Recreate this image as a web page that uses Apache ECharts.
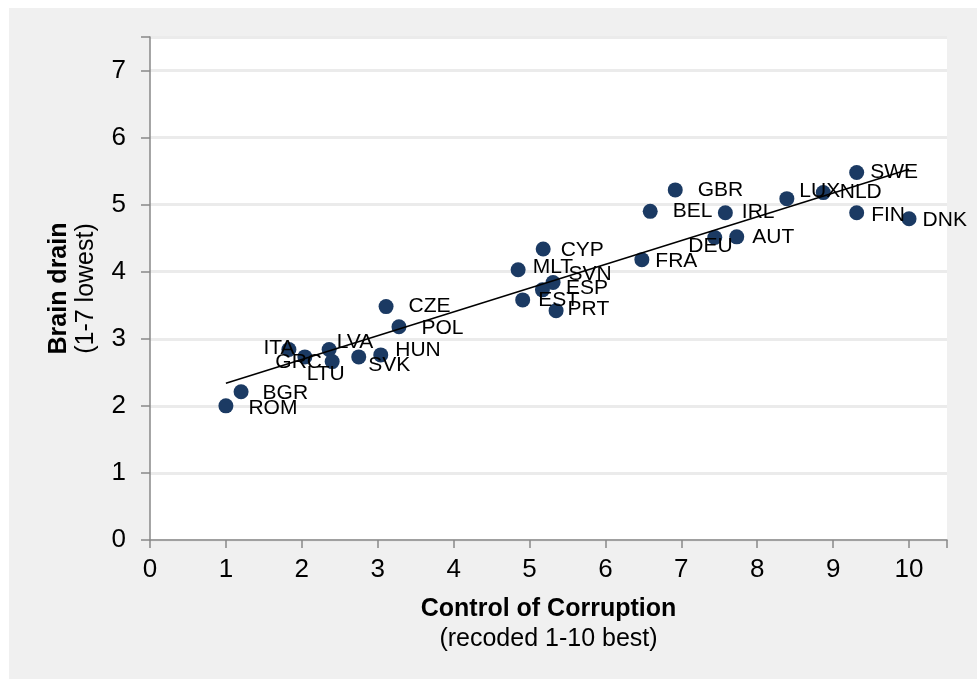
<!DOCTYPE html>
<html>
<head>
<meta charset="utf-8">
<script src="https://cdn.jsdelivr.net/npm/echarts@6/dist/echarts.min.js"></script>
<style>
  html, body { margin: 0; padding: 0; background: #fff; }
  #chart { width: 977px; height: 681px; }
</style>
</head>
<body>
<div id="chart"></div>
<script>
// countries and their values (x: control of corruption, y: brain drain)
var countries = ['ROM', 'BGR', 'ITA', 'GRC', 'LVA', 'LTU', 'SVK', 'HUN', 'CZE', 'POL',
  'MLT', 'CYP', 'SVN', 'ESP', 'EST', 'PRT', 'FRA', 'DEU', 'AUT', 'BEL',
  'IRL', 'GBR', 'LUX', 'NLD', 'SWE', 'FIN', 'DNK'];
var corruption = [1.0, 1.2, 1.83, 2.04, 2.36, 2.4, 2.75, 3.04, 3.11, 3.28,
  4.85, 5.18, 5.31, 5.17, 4.91, 5.35, 6.48, 7.44, 7.73, 6.59,
  7.58, 6.92, 8.39, 8.87, 9.31, 9.31, 10.0];
var brainDrain = [2.0, 2.21, 2.84, 2.73, 2.84, 2.66, 2.73, 2.76, 3.48, 3.18,
  4.03, 4.34, 3.84, 3.73, 3.58, 3.42, 4.18, 4.51, 4.52, 4.9,
  4.88, 5.22, 5.09, 5.18, 5.48, 4.88, 4.79];
var yTicks = [0, 1, 2, 3, 4, 5, 6, 7];
var xTicks = [0, 1, 2, 3, 4, 5, 6, 7, 8, 9, 10];

// label nudges (px), so labels sit where they do in the original
var labelNudge = {
  ROM: [15, 2], BGR: [14, 1], ITA: [-33, -1], GRC: [-37, 5], LVA: [0, -7],
  LTU: [-33, 13], SVK: [2, 8], HUN: [7, -5], CZE: [15, 0], POL: [15, 1],
  MLT: [7, -3], CYP: [10, 1], SVN: [8, -8], ESP: [16, -2], EST: [8, 0],
  PRT: [4, -1], FRA: [6, 2], DEU: [-34, 9], AUT: [8, 0], BEL: [15, 0],
  IRL: [9, -1], GBR: [15, 0], LUX: [5, -7], NLD: [9, 0], SWE: [6, 0],
  FIN: [7, 2], DNK: [6, 1]
};

var chart = echarts.init(document.getElementById('chart'));

var points = countries.map(function (c, i) {
  var n = labelNudge[c] || [6, 0];
  return {
    name: c,
    value: [corruption[i], brainDrain[i]],
    label: { offset: n }
  };
});

// linear trend line (least squares)
var n = corruption.length, sx = 0, sy = 0, sxx = 0, sxy = 0;
for (var i = 0; i < n; i++) {
  sx += corruption[i]; sy += brainDrain[i];
  sxx += corruption[i] * corruption[i]; sxy += corruption[i] * brainDrain[i];
}
var slope = (n * sxy - sx * sy) / (n * sxx - sx * sx);
var icpt = (sy - slope * sx) / n;
var xMin = Math.min.apply(null, corruption), xMax = Math.max.apply(null, corruption);
var trend = [[xMin, icpt + slope * xMin], [xMax, icpt + slope * xMax]];

var font = 'Liberation Sans, Arial, sans-serif';

var option = {
  animation: false,
  textStyle: { fontFamily: font },
  graphic: [{
    type: 'rect',
    z: -10,
    shape: { x: 9, y: 8, width: 968, height: 671 },
    style: { fill: '#f0f0f0' }
  }],
  grid: {
    left: 150, right: 30, top: 37, bottom: 141,
    show: true, backgroundColor: '#fff', borderWidth: 0
  },
  xAxis: {
    type: 'value',
    min: 0, max: 10.5, interval: 1,
    name: '{b|Control of Corruption}\n{r|(recoded 1-10 best)}',
    nameLocation: 'middle',
    nameGap: 54,
    nameTextStyle: {
      rich: {
        b: { fontSize: 25, fontWeight: 'bold', color: '#000', fontFamily: font, lineHeight: 30 },
        r: { fontSize: 25, color: '#000', fontFamily: font, lineHeight: 30 }
      }
    },
    axisLine: { show: true, onZero: false, lineStyle: { color: '#888', width: 1.5 } },
    axisTick: { show: true, length: 8, lineStyle: { color: '#888', width: 1.5 } },
    axisLabel: {
      fontSize: 26, color: '#000', margin: 17,
      formatter: function (v) { return xTicks.indexOf(v) >= 0 ? String(v) : ''; }
    },
    splitLine: { show: false }
  },
  yAxis: {
    type: 'value',
    min: 0, max: 7.5, interval: 1,
    name: '{b|Brain drain}\n{r|(1-7 lowest)}',
    nameLocation: 'middle',
    nameGap: 50,
    nameRotate: 90,
    nameTextStyle: {
      rich: {
        b: { fontSize: 25, fontWeight: 'bold', color: '#000', fontFamily: font, lineHeight: 27 },
        r: { fontSize: 25, color: '#000', fontFamily: font, lineHeight: 27 }
      }
    },
    axisLine: { show: true, lineStyle: { color: '#888', width: 1.5 } },
    axisTick: { show: true, length: 9, lineStyle: { color: '#888', width: 1.5 } },
    axisLabel: {
      fontSize: 26, color: '#000', margin: 24,
      formatter: function (v) { return yTicks.indexOf(v) >= 0 ? String(v) : ''; }
    },
    splitLine: { show: true, lineStyle: { color: '#ebebeb', width: 3 } }
  },
  series: [{
    type: 'scatter',
    symbol: 'circle',
    symbolSize: 15,
    itemStyle: { color: '#1b3a63', opacity: 1 },
    label: {
      show: true,
      position: 'right',
      distance: 0,
      fontSize: 21,
      color: '#000',
      fontFamily: font,
      formatter: '{b}'
    },
    data: points,
    z: 3
  }, {
    type: 'line',
    data: trend,
    symbol: 'none',
    lineStyle: { color: '#000', width: 1.5 },
    z: 4,
    silent: true
  }]
};

chart.setOption(option);
</script>
</body>
</html>
